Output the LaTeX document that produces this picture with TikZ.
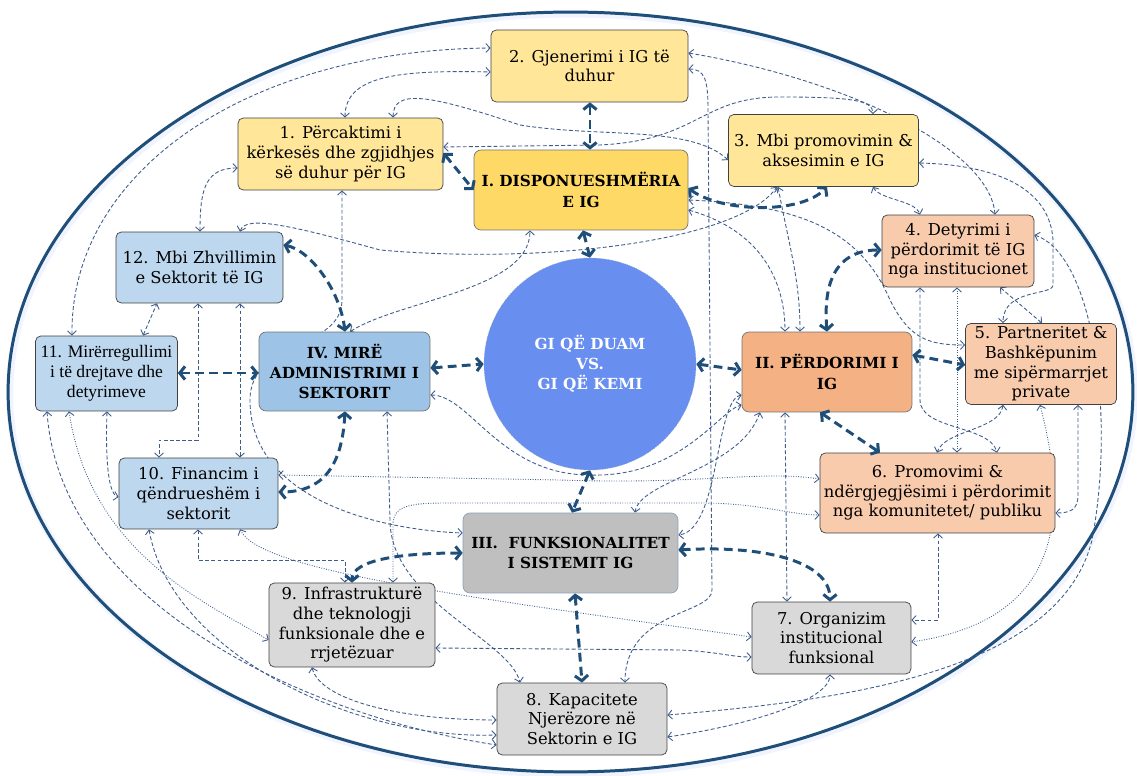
\documentclass[tikz,border=0pt]{standalone}
\usepackage{fontspec}
\setmainfont{DejaVu Serif}
\newfontfamily\timesfont{Liberation Serif}
\usetikzlibrary{arrows.meta}
\definecolor{dk}{RGB}{31,78,121}
\definecolor{ln}{RGB}{62,92,140}
\definecolor{yel}{RGB}{255,230,153}
\definecolor{gold}{RGB}{255,217,102}
\definecolor{peach}{RGB}{248,203,173}
\definecolor{orng}{RGB}{244,177,131}
\definecolor{lblue}{RGB}{189,215,238}
\definecolor{mblue}{RGB}{157,195,230}
\definecolor{lgrey}{RGB}{217,217,217}
\definecolor{mgrey}{RGB}{191,191,191}
\definecolor{gicol}{RGB}{104,142,240}
\newcommand\boxfont{\fontsize{9.3}{11.2}\selectfont}
\newcommand\headfont{\fontsize{8.7}{11.5}\selectfont\bfseries}
\pgfdeclarelayer{bg}
\pgfsetlayers{bg,main}

\begin{document}
\begin{tikzpicture}[x=0.02cm,y=-0.02cm,
  sub/.style={draw=black!75,rounded corners=3pt,align=center,font=\boxfont,inner sep=1pt},
  head/.style={draw=black!55,rounded corners=4pt,align=center,font=\headfont,inner sep=1pt},
  link/.style={draw=ln,line width=0.5pt,dash pattern=on 2.2pt off 1.3pt,
    {Straight Barb[length=2.4pt,width=5pt]}-{Straight Barb[length=2.4pt,width=5pt]}},
  dotlink/.style={link,dash pattern=on 0.5pt off 0.9pt},
  bigarrow/.style={draw=dk,line width=1.7pt,dash pattern=on 5pt off 3pt,
    {Straight Barb[length=3pt,width=7.5pt]}-{Straight Barb[length=3pt,width=7.5pt]}}
  ]
\useasboundingbox (0,0) rectangle (1137,776);

% boxes
\node[sub,fill=yel,minimum width=3.94cm,minimum height=1.44cm] (b2) at (589.5,66) {2. Gjenerimi i IG të\\duhur};
\node[sub,fill=yel,minimum width=4.1cm,minimum height=1.44cm] (b1) at (340.5,154) {1. Përcaktimi i\\kërkesës dhe zgjidhjes\\së duhur për IG};
\node[head,fill=gold,minimum width=4.28cm,minimum height=1.6cm] (m1) at (581,190) {I. DISPONUESHMËRIA\\E IG};
\node[sub,fill=yel,minimum width=3.8cm,minimum height=1.44cm] (b3) at (823.5,150.5) {3. Mbi promovimin \&\\aksesimin e IG};
\node[sub,fill=lblue,minimum width=3.34cm,minimum height=1.42cm] (b12) at (199.5,267.5) {12. Mbi Zhvillimin\\e Sektorit të IG};
\node[sub,fill=peach,minimum width=3.04cm,minimum height=1.44cm] (b4) at (958,251) {4. Detyrimi i\\përdorimit të IG\\nga institucionet};
\node[sub,fill=lblue,minimum width=2.84cm,minimum height=1.5cm,font=\timesfont\fontsize{10}{11.5}\selectfont] (b11) at (106.5,373.5) {11. Mirërregullimi\\i të drejtave dhe\\detyrimeve};
\node[head,fill=mblue,minimum width=3.42cm,minimum height=1.58cm] (m4) at (344.5,371.5) {IV. MIRË\\ADMINISTRIMI I\\SEKTORIT};
\node[circle,fill=gicol,draw=dk!50,densely dotted,minimum size=4.24cm,align=center,
  font=\headfont,text=white] (gi) at (590,364) {GI QË DUAM\\VS.\\GI QË KEMI};
\node[head,fill=orng,minimum width=3.4cm,minimum height=1.6cm] (m2) at (827,372) {II. PËRDORIMI I\\IG};
\node[sub,fill=peach,minimum width=3.02cm,minimum height=1.62cm] (b5) at (1041,364) {5. Partneritet \&\\Bashkëpunim\\me sipërmarrjet\\private};
\node[sub,fill=lblue,minimum width=3.18cm,minimum height=1.42cm] (b10) at (198.5,493.5) {10. Financim i\\qëndrueshëm i\\sektorit};
\node[sub,fill=peach,minimum width=4.7cm,minimum height=1.6cm] (b6) at (937.5,493) {6. Promovimi \&\\ndërgjegjësimi i përdorimit\\nga komunitetet/ publiku};
\node[head,fill=mgrey,draw=ln!60,minimum width=4.3cm,minimum height=1.6cm] (m3) at (570.5,553) {III.\ \ FUNKSIONALITET\\I SISTEMIT IG};
\node[sub,fill=lgrey,minimum width=3.32cm,minimum height=1.68cm] (b9) at (352,625) {9. Infrastrukturë\\dhe teknologji\\funksionale dhe e\\rrjetëzuar};
\node[sub,fill=lgrey,minimum width=3.18cm,minimum height=1.44cm] (b7) at (831.5,638) {7. Organizim\\institucional\\funksional};
\node[sub,fill=lgrey,minimum width=3.4cm,minimum height=1.44cm] (b8) at (582,719) {8. Kapacitete\\Njerëzore në\\Sektorin e IG};

\begin{pgfonlayer}{bg}
\fill[white] (0,0) rectangle (1137,776);
\draw[draw=gicol!10,line width=4pt] (572,394) ellipse [x radius=11.25cm,y radius=7.6cm];
\draw[draw=dk,line width=1.7pt] (570.5,392) ellipse [x radius=11.25cm,y radius=7.6cm];
% thin links, left and top
\draw[link] (b11.north -| 72,0) .. controls (70,170) and (250,50) .. (b2.west |- 0,48);
\draw[link] (b1.north -| 345,0) .. controls (345,75) and (400,70) .. (b2.west |- 0,72);
\draw[link] (b1.north -| 393,0) .. controls (393,88) and (430,95) .. (520,125) .. controls (600,138) and (690,125) .. (b3.west |- 0,160);
\draw[link] (b1.east |- 0,147) -- (600,145) .. controls (700,140) and (700,97) .. (780,97) .. controls (850,97) and (873,100) .. (b3.north -| 873,0);
\draw[link] (b1.west |- 0,168) .. controls (205,168) and (200,190) .. (b12.north -| 200,0);
\draw[link] (b1.south -| 342,0) -- (342,300) .. controls (342,350) and (250,340) .. (250,400) .. controls (250,500) and (380,530) .. (m3.west |- 0,533);
\draw[link] (b12.north -| 240,0) .. controls (245,215) and (290,225) .. (380,250) .. controls (550,265) and (740,240) .. (b3.south -| 777,0);
\draw[link] (m4.north -| 350,0) .. controls (400,300) and (530,290) .. (m1.south -| 530,0);
\draw[link] (b11.north -| 143,0) -- (b12.south -| 157,0);
\draw[link] (b12.south -| 198,0) -- (198,440) -- (159,440) -- (b10.north -| 159,0);
\draw[link] (b12.south -| 240,0) -- (b10.north -| 240,0);
\draw[link] (b11.south -| 47,0) .. controls (60,600) and (300,715) .. (b8.west |- 0,745);
\draw[dotlink] (b11.south -| 69,0) .. controls (90,550) and (200,600) .. (b9.west |- 0,640);
\draw[link] (b11.south -| 107,0) .. controls (105,470) and (110,495) .. (b10.west |- 0,497);
\draw[link] (b10.south -| 149,0) .. controls (170,650) and (350,740) .. (b8.west |- 0,735);
\draw[link] (b9.south -| 312,0) .. controls (320,700) and (400,720) .. (b8.west |- 0,720);
\draw[link] (b10.south -| 198,0) -- (198,560) -- (345,560) -- (b9.north -| 345,0);
\draw[dotlink] (b10.east |- 0,475) -- (560,480) .. controls (700,485) and (760,470) .. (b6.west |- 0,479);
\draw[dotlink] (b10.south -| 240,0) .. controls (260,570) and (450,595) .. (b7.west |- 0,637);
\draw[dotlink] (b9.north -| 393,0) -- (393,525) .. controls (393,505) and (410,503) .. (450,503) -- (700,503) .. controls (760,503) and (790,515) .. (b6.west |- 0,515);
\draw[link] (b9.east |- 0,648) -- (680,650) .. controls (720,652) and (730,657) .. (b7.west |- 0,657);
\draw[link] (m4.south -| 387,0) -- (390,520) .. controls (390,600) and (510,640) .. (b8.north -| 520,0);
\draw[link] (m4.east |- 0,395) .. controls (470,395) and (500,475) .. (590,475) .. controls (680,478) and (720,410) .. (m2.west |- 0,405);
% thin links, right
\draw[link] (b2.east |- 0,69) .. controls (705,69) and (708,80) .. (708,110) -- (712,590) .. controls (712,615) and (625,610) .. (b8.north -| 625,0);
\draw[link] (b8.east |- 0,737) .. controls (750,725) and (830,700) .. (b7.south -| 830,0);
\draw[link] (b4.east |- 0,235) .. controls (1095,255) and (1115,420) .. (1092,540) .. controls (1060,670) and (850,700) .. (b8.east |- 0,715);
\draw[link] (b5.south -| 1078,0) -- (1078,495) .. controls (1078,510) and (1070,513) .. (b6.east |- 0,513);
\draw[link] (b3.east |- 0,163) .. controls (1000,165) and (1050,190) .. (1053,240) -- (1053,285) .. controls (1053,296) and (1003,288) .. (b5.north -| 1003,0);
\draw[dotlink] (b5.south -| 1040,0) .. controls (1070,520) and (1060,620) .. (b7.east |- 0,642);
\draw[link] (b6.south -| 938,0) -- (938,620) -- (b7.east |- 0,620);
\draw[link] (b3.south -| 873,0) .. controls (880,200) and (915,200) .. (b4.north -| 920,0);
\draw[link] (b2.east |- 0,53) .. controls (850,80) and (990,150) .. (b4.north -| 995,0);
\draw[link] (m1.east |- 0,210) .. controls (760,230) and (785,280) .. (m2.north -| 785,0);
\draw[link] (b3.south -| 778,0) .. controls (790,250) and (800,280) .. (m2.north -| 800,0);
\draw[link] (m1.east |- 0,200) .. controls (800,205) and (860,230) .. (890,300) .. controls (910,340) and (930,345) .. (b5.west |- 0,345);
\draw[link] (b4.south -| 1000,0) -- (b5.north -| 1042,0);
\draw[link] (b4.south -| 920,0) -- (920,400) .. controls (920,430) and (990,425) .. (b6.north -| 997,0);
\draw[dotlink] (b4.south -| 957,0) -- (b6.north -| 957,0);
\draw[link] (b5.south -| 1003,0) .. controls (1000,430) and (945,430) .. (b6.north -| 937,0);
\draw[link] (m2.west |- 0,395) .. controls (715,400) and (720,530) .. (m3.east |- 0,535);
\draw[link] (m2.south -| 785,0) -- (b7.north -| 787,0);
\draw[link] (m2.south -| 760,0) .. controls (740,470) and (640,480) .. (m3.north -| 635,0);
\end{pgfonlayer}

% thick links
\draw[bigarrow] (m1.south -| 583,0) -- (gi.north);
\draw[bigarrow] (b2.south -| 590,0) -- (m1.north -| 590,0);
\draw[bigarrow] (b1.east |- 0,153) -- (m1.west |- 0,190);
\draw[bigarrow] (m1.east |- 0,188) .. controls (720,212) and (800,215) .. (b3.south -| 827,0);
\draw[bigarrow] (m2.north -| 827,0) .. controls (822,270) and (845,250) .. (b4.west |- 0,250);
\draw[bigarrow] (m2.east |- 0,355) -- (b5.west |- 0,365);
\draw[bigarrow] (m2.south -| 820,0) -- (b6.north -| 880,0);
\draw[bigarrow] (gi.east) -- (m2.west |- 0,370);
\draw[bigarrow] (m4.east |- 0,368) -- (gi.west);
\draw[bigarrow] (gi.south) -- (m3.north -| 572,0);
\draw[bigarrow] (m3.east |- 0,550) .. controls (760,545) and (830,560) .. (b7.north -| 830,0);
\draw[bigarrow] (m3.south -| 575,0) -- (b8.north -| 582,0);
\draw[bigarrow] (m3.west |- 0,553) .. controls (400,553) and (352,560) .. (b9.north -| 352,0);
\draw[bigarrow] (m4.south -| 345,0) .. controls (342,470) and (320,492) .. (b10.east |- 0,492);
\draw[bigarrow] (b11.east |- 0,373) -- (m4.west |- 0,373);
\draw[bigarrow] (b12.east |- 0,245) .. controls (310,250) and (340,290) .. (m4.north -| 345,0);
\end{tikzpicture}
\end{document}
